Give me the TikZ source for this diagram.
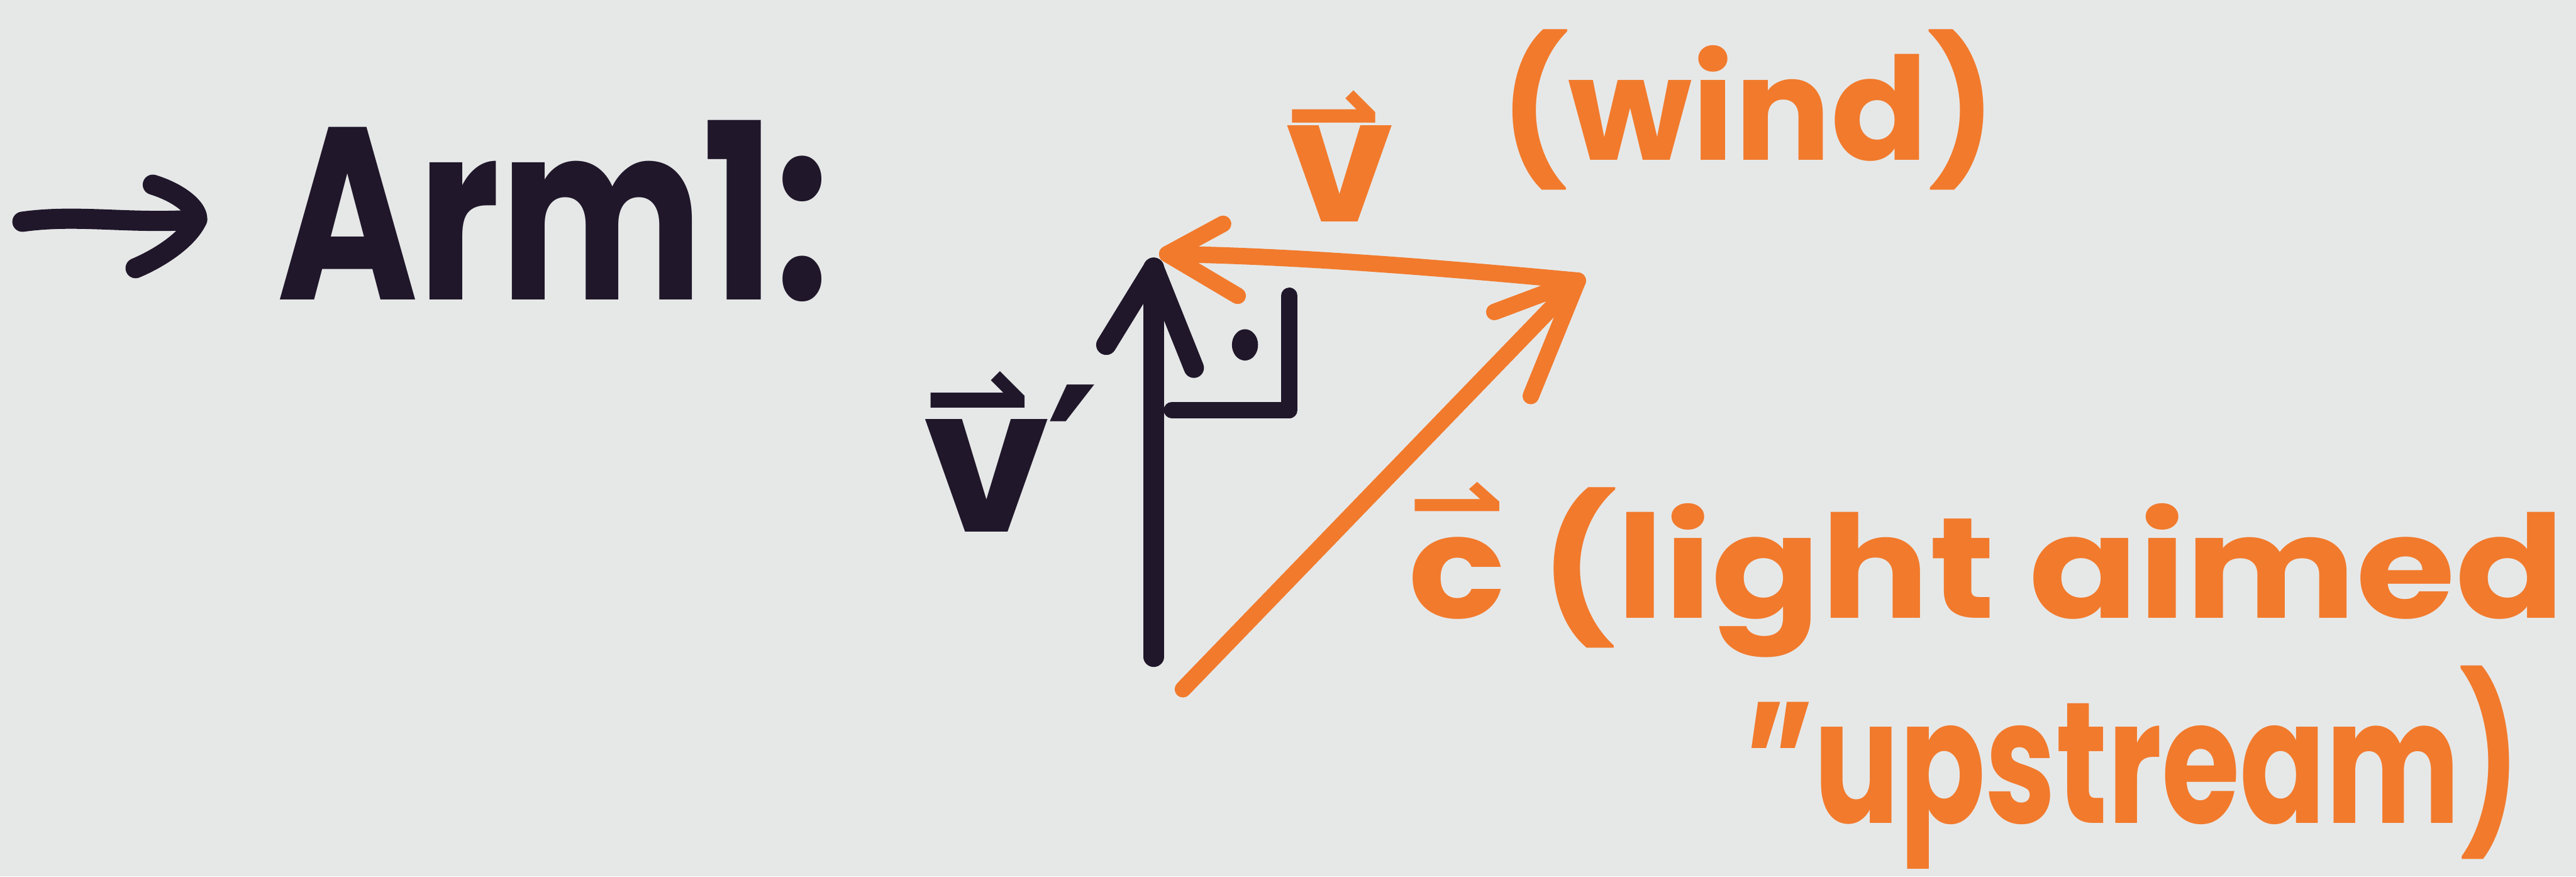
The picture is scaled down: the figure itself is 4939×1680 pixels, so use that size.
\documentclass[tikz,border=0pt]{standalone}
\usepackage{fontspec}
\setmainfont{Poppins}
\newfontfamily\arrowf{DejaVu Sans}
\newcommand{\harp}[2]{\makebox[0pt][l]{\raisebox{#1}{\arrowf\bfseries\fontsize{#2}{#2}\selectfont ⇀}}}
\definecolor{bg}{HTML}{E6E8E8}
\definecolor{ink}{HTML}{20172A}
\definecolor{orng}{HTML}{F27A2C}
\begin{document}
\begin{tikzpicture}[x=0.01cm,y=-0.01cm,line cap=round,line join=round,
  inkline/.style={draw=ink,line width=11pt},
  orline/.style={draw=orng,line width=9pt},
  blacktext/.style={text=ink,inner sep=0pt,font=\bfseries\fontsize{134}{140}\selectfont},
  blacklabel/.style={text=ink,inner sep=0pt,font=\bfseries\fontsize{110}{120}\selectfont},
  ortext/.style={text=orng,inner sep=0pt,font=\bfseries\fontsize{94}{100}\selectfont},
  cline/.style={text=orng,inner sep=0pt,font=\bfseries\fontsize{78}{80}\selectfont},
  windtext/.style={text=orng,inner sep=0pt,font=\bfseries\fontsize{78}{80}\selectfont}]
\fill[bg] (0,0) rectangle (4939,1680);
\useasboundingbox (0,0) rectangle (4939,1680);
% left arrow
\coordinate (la0) at (43,425);
\coordinate (la1) at (378,421);
\coordinate (lh1) at (293,354);
\coordinate (lh2) at (260,514);
\draw[inkline] (la0) .. controls (150,410) and (250,430) .. (la1);
\draw[inkline] (lh1) .. controls (345,370) and (380,400) .. (la1) .. controls (360,460) and (305,495) .. (lh2);
% heading
\node[blacktext,anchor=base west,xscale=0.78] (arm) at (530,575) {Arm1:};
% black arrow v'
\coordinate (b0) at (2212,1259);
\coordinate (b1) at (2212,513);
\coordinate (bb1) at (2121,661);
\coordinate (bb2) at (2289,705);
\draw[inkline] (b0) -- (b1);
\draw[inkline] (bb1) -- (b1) -- (bb2);
\node[blacklabel,anchor=base west] (vp) at (1770,1020) {\harp{50pt}{70}v\kern-2pt{\arrowf\bfseries\fontsize{110}{110}\selectfont ′}};
% right angle mark
\coordinate (r0) at (2247,786);
\coordinate (r1) at (2472,786);
\coordinate (r2) at (2472,567);
\draw[inkline,line width=9pt] (r0) -- (r1) -- (r2);
\fill[ink] (2387,661) ellipse [x radius=0.25cm,y radius=0.3cm];
% orange triangle
\coordinate (O) at (2268,1321);
\coordinate (P) at (3025,538);
\coordinate (Q) at (2238,487);
\coordinate (cb1) at (2865,598);
\coordinate (cb2) at (2935,759);
\coordinate (wb1) at (2345,429);
\coordinate (wb2) at (2373,567);
\draw[orline] (O) -- (P);
\draw[orline] (cb1) -- (P) -- (cb2);
\draw[orline] (P) .. controls (2780,515) and (2480,490) .. (Q);
\draw[orline] (wb1) -- (Q) -- (wb2);
% orange labels
\node[ortext,anchor=base west] (v) at (2465,425) {\harp{38pt}{62}v};
\node[windtext] (wind) at (3352,210) {(wind)};
\node[cline,anchor=base west,xscale=1.125] (c) at (2700,1185) {\harp{44pt}{56}c\ (light aimed};
\node[ortext,anchor=base west,xscale=0.735] (up) at (3346,1578) {"upstream)};
\end{tikzpicture}
\end{document}
